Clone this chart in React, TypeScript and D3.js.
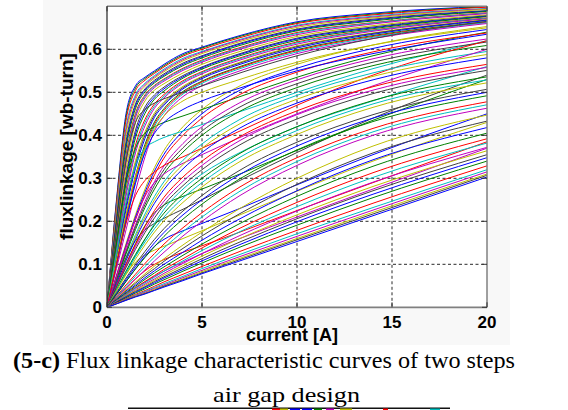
import React from 'react';
import * as d3 from 'd3';

// current samples [A]
const currents = [0, 0.5, 1, 1.5, 2, 2.5, 3, 4, 5, 7, 10, 14, 20];

// near-aligned bundle (flux linkage at each current)
const alignedFamily: number[][] = [
  [0, .25, .45, .515, .535, .55, .565, .59, .605, .632, .664, .684, .70],
  [0, .245, .442, .51, .532, .547, .562, .587, .603, .63, .662, .682, .699],
  [0, .239, .434, .504, .528, .544, .559, .584, .6, .627, .66, .68, .698],
  [0, .228, .418, .494, .521, .539, .554, .579, .595, .623, .656, .677, .695],
  [0, .222, .41, .489, .518, .536, .551, .576, .593, .621, .654, .675, .694],
  [0, .216, .401, .483, .514, .533, .548, .573, .59, .618, .651, .673, .693],
  [0, .205, .385, .473, .508, .528, .543, .568, .585, .614, .647, .67, .69],
  [0, .2, .377, .468, .505, .525, .54, .565, .583, .612, .645, .668, .689],
  [0, .194, .369, .462, .501, .522, .537, .562, .58, .609, .643, .666, .688],
  [0, .183, .353, .451, .494, .516, .531, .556, .575, .604, .639, .662, .685],
  [0, .177, .345, .446, .491, .514, .529, .554, .573, .602, .637, .661, .684],
  [0, .171, .336, .441, .487, .511, .526, .551, .57, .6, .634, .659, .683],
  [0, .16, .32, .43, .48, .505, .52, .545, .565, .595, .63, .655, .68],
  [0, .152, .304, .412, .466, .494, .512, .539, .559, .59, .626, .652, .678],
  [0, .148, .297, .403, .459, .489, .508, .536, .557, .588, .624, .65, .677],
  [0, .144, .289, .394, .451, .484, .503, .533, .554, .585, .621, .648, .676],
  [0, .137, .273, .377, .437, .473, .495, .527, .548, .58, .617, .645, .673],
  [0, .133, .266, .368, .43, .468, .491, .524, .546, .578, .615, .644, .672],
  [0, .129, .258, .359, .422, .463, .487, .521, .543, .575, .612, .642, .671],
  [0, .121, .242, .341, .408, .452, .478, .514, .537, .57, .608, .638, .669],
  [0, .117, .235, .332, .401, .447, .474, .511, .535, .568, .606, .637, .668],
  [0, .113, .227, .323, .393, .442, .47, .508, .532, .565, .603, .635, .667],
  [0, .106, .211, .306, .379, .431, .462, .502, .526, .56, .599, .632, .664],
  [0, .102, .204, .297, .372, .426, .458, .499, .524, .558, .597, .63, .663],
  [0, .098, .196, .288, .364, .421, .453, .496, .521, .555, .594, .628, .662],
  [0, .09, .18, .27, .35, .41, .445, .49, .515, .55, .59, .625, .66],
];

// intermediate positions
const middleFamily: number[][] = [
  [0, .075, .148, .215, .275, .325, .365, .42, .46, .515, .565, .61, .653],
  [0, .073, .144, .21, .268, .317, .356, .41, .45, .505, .556, .602, .646],
  [0, .071, .14, .204, .261, .308, .347, .4, .44, .495, .547, .594, .638],
  [0, .067, .132, .192, .246, .292, .329, .381, .42, .476, .529, .578, .624],
  [0, .065, .128, .187, .239, .284, .32, .371, .41, .466, .52, .57, .617],
  [0, .063, .124, .181, .232, .275, .311, .361, .4, .456, .511, .562, .609],
  [0, .059, .116, .169, .217, .258, .292, .342, .38, .437, .493, .545, .595],
  [0, .057, .112, .164, .21, .25, .283, .332, .37, .427, .484, .537, .588],
  [0, .055, .108, .158, .203, .242, .274, .322, .36, .417, .475, .529, .58],
  [0, .051, .1, .146, .188, .225, .256, .303, .34, .397, .457, .513, .565],
  [0, .049, .096, .141, .181, .217, .247, .293, .33, .388, .448, .505, .558],
  [0, .047, .092, .135, .174, .208, .238, .283, .32, .378, .438, .497, .551],
  [0, .042, .084, .123, .159, .191, .219, .264, .3, .358, .42, .481, .536],
  [0, .04, .08, .118, .152, .183, .21, .254, .29, .349, .411, .473, .529],
  [0, .038, .076, .112, .145, .175, .201, .244, .28, .339, .402, .465, .522],
  [0, .034, .068, .1, .13, .158, .183, .224, .26, .319, .384, .448, .507],
  [0, .032, .064, .095, .123, .15, .174, .215, .25, .309, .375, .44, .5],
  [0, .03, .06, .089, .116, .141, .165, .205, .24, .299, .366, .432, .492],
  [0, .026, .052, .077, .102, .125, .147, .185, .22, .28, .348, .416, .478],
  [0, .024, .048, .072, .095, .117, .138, .176, .21, .27, .339, .408, .471],
  [0, .022, .044, .066, .087, .108, .128, .166, .2, .26, .33, .4, .463],
];

// two-step curves that cross the others
const crossingCurves: number[][] = [
  [0, .175, .34, .43, .46, .475, .485, .5, .515, .545, .585, .625, .665],
  [0, .15, .29, .37, .405, .42, .43, .445, .46, .49, .535, .585, .64],
  [0, .125, .245, .33, .37, .385, .395, .41, .425, .455, .5, .555, .62],
  [0, .11, .215, .305, .37, .415, .445, .48, .5, .53, .57, .61, .65],
  [0, .1, .2, .29, .36, .405, .43, .46, .48, .51, .55, .59, .635],
  [0, .1, .195, .26, .295, .315, .33, .35, .37, .41, .47, .54, .62],
  [0, .07, .14, .205, .258, .29, .31, .335, .355, .395, .45, .515, .6],
  [0, .06, .115, .155, .18, .195, .207, .228, .25, .295, .36, .44, .54],
  [0, .05, .1, .148, .19, .22, .238, .258, .275, .31, .365, .435, .53],
  [0, .04, .08, .12, .158, .195, .228, .275, .31, .36, .42, .48, .56],
  [0, .04, .077, .105, .122, .133, .142, .16, .178, .215, .27, .34, .43],
  [0, .03, .06, .09, .118, .142, .158, .178, .195, .23, .285, .355, .45],
  [0, .022, .044, .066, .085, .1, .111, .128, .143, .175, .225, .29, .385],
  [0, .015, .03, .045, .059, .072, .084, .105, .125, .16, .21, .275, .37],
];

// near-unaligned positions
const unalignedFamily: number[][] = [
  [0, .02, .04, .059, .078, .096, .113, .145, .175, .23, .3, .375, .447],
  [0, .019, .038, .056, .074, .09, .107, .137, .166, .218, .286, .359, .433],
  [0, .018, .035, .052, .069, .085, .1, .128, .156, .206, .271, .343, .418],
  [0, .017, .033, .049, .065, .08, .094, .121, .147, .195, .258, .328, .405],
  [0, .015, .031, .046, .06, .074, .088, .113, .138, .184, .244, .313, .392],
  [0, .015, .03, .044, .057, .07, .084, .108, .132, .176, .234, .302, .382],
  [0, .014, .028, .041, .054, .066, .079, .102, .125, .167, .224, .291, .372],
  [0, .013, .027, .039, .051, .063, .075, .097, .119, .16, .215, .281, .364],
  [0, .012, .025, .037, .048, .06, .071, .092, .113, .152, .206, .271, .355],
  [0, .012, .024, .035, .046, .057, .068, .088, .108, .146, .199, .263, .348],
  [0, .011, .022, .033, .043, .054, .064, .084, .103, .14, .191, .255, .34],
  [0, .01, .02, .03, .039, .049, .059, .077, .095, .13, .179, .242, .329],
  [0, .009, .019, .028, .037, .046, .055, .072, .09, .123, .171, .232, .32],
  [0, .009, .018, .027, .035, .044, .052, .069, .086, .118, .165, .226, .315],
  [0, .009, .017, .026, .033, .042, .05, .066, .083, .114, .16, .221, .31],
  [0, .008, .017, .025, .032, .04, .049, .064, .08, .111, .157, .217, .307],
  [0, .008, .016, .024, .031, .039, .047, .062, .078, .108, .153, .213, .303],
];

const xTicks = [0, 5, 10, 15, 20];
const yTicks = [0, 0.1, 0.2, 0.3, 0.4, 0.5, 0.6];
const xGrid = [5, 10, 15];
const yGrid = [0.1, 0.2, 0.3, 0.4, 0.5, 0.6];
const lineColors = ['#0000ff', '#008000', '#ff0000', '#00bfbf', '#bf00bf', '#bfbf00', '#404040'];

export default function App() {
  const W = 568, H = 410;
  const left = 107, right = 487, top = 6.3, bottom = 307.3;
  const x = d3.scaleLinear().domain([0, 20]).range([left, right]);
  const y = d3.scaleLinear().domain([0, 0.7]).range([bottom, top]);

  // interleave the crossing curves among the middle family (plot order)
  const middleWithCrossing: number[][] = [];
  middleFamily.forEach((c, i) => {
    middleWithCrossing.push(c);
    if (i < crossingCurves.length) middleWithCrossing.push(crossingCurves[i]);
  });
  const curves: number[][] = [...alignedFamily, ...middleWithCrossing, ...unalignedFamily];

  const line = d3
    .line<number>()
    .x((_, i) => x(currents[i]))
    .y((d) => y(d))
    .curve(d3.curveMonotoneX);

  const sans = '"Liberation Sans", Arial, sans-serif';
  const serif = '"Liberation Serif", "Times New Roman", serif';

  const barBits = [
    { x0: 272, x1: 280, c: '#ff0000' },
    { x0: 280, x1: 288, c: '#bfbf00' },
    { x0: 290, x1: 300, c: '#0000ff' },
    { x0: 302, x1: 312, c: '#0000ff' },
    { x0: 314, x1: 322, c: '#008000' },
    { x0: 326, x1: 334, c: '#bf00bf' },
    { x0: 340, x1: 352, c: '#bfbf00' },
    { x0: 383, x1: 388, c: '#ff0000' },
    { x0: 430, x1: 440, c: '#00bfbf' },
  ];

  return (
    <svg
      width={W}
      height={H}
      viewBox={`0 0 ${W} ${H}`}
      style={{ position: 'absolute', left: 0, top: 0, background: '#fff' }}
    >
      <defs>
        <clipPath id="plotClip">
          <rect x={left} y={top} width={right - left} height={bottom - top} />
        </clipPath>
      </defs>
      <rect x={0} y={0} width={W} height={H} fill="#fff" />
      <rect x={43} y={0} width={467} height={345} fill="#f8f8f8" />
      <rect x={left} y={top} width={right - left} height={bottom - top} fill="#fff" />

      {/* grid */}
      {xGrid.map((v) => (
        <line key={'gx' + v} x1={x(v)} x2={x(v)} y1={top} y2={bottom} stroke="#111" strokeWidth={0.9} strokeDasharray="3,2.5" />
      ))}
      {yGrid.map((v) => (
        <line key={'gy' + v} x1={left} x2={right} y1={y(v)} y2={y(v)} stroke="#111" strokeWidth={0.9} strokeDasharray="3,2.5" />
      ))}

      {/* curves */}
      <g clipPath="url(#plotClip)">
        {curves.map((c, k) => (
          <path key={k} d={line(c) || ''} fill="none" stroke={lineColors[k % lineColors.length]} strokeWidth={1} />
        ))}
      </g>

      {/* frame */}
      <line x1={left} x2={right} y1={top} y2={top} stroke="#808080" strokeWidth={1.5} />
      <line x1={right} x2={right} y1={top} y2={bottom} stroke="#808080" strokeWidth={1.5} />
      <line x1={left} x2={right} y1={bottom} y2={bottom} stroke="#808080" strokeWidth={1.8} />
      <line x1={left} x2={left} y1={top} y2={bottom} stroke="#222" strokeWidth={1.2} />

      {/* ticks */}
      {xTicks.map((v) => (
        <g key={'xt' + v}>
          <line x1={x(v)} x2={x(v)} y1={bottom} y2={bottom - 5} stroke="#333" />
          <line x1={x(v)} x2={x(v)} y1={top} y2={top + 5} stroke="#333" />
          <text x={x(v)} y={328} textAnchor="middle" fontFamily={sans} fontWeight="bold" fontSize={17} fill="#000">
            {v}
          </text>
        </g>
      ))}
      {yTicks.map((v) => (
        <g key={'yt' + v}>
          <line x1={left} x2={left + 5} y1={y(v)} y2={y(v)} stroke="#333" />
          <line x1={right} x2={right - 5} y1={y(v)} y2={y(v)} stroke="#333" />
          <text x={102} y={y(v) + 6} textAnchor="end" fontFamily={sans} fontWeight="bold" fontSize={17} fill="#000">
            {v === 0 ? '0' : v.toFixed(1)}
          </text>
        </g>
      ))}

      {/* axis labels */}
      <text x={292} y={341} textAnchor="middle" fontFamily={sans} fontWeight="bold" fontSize={18} fill="#000">
        current [A]
      </text>
      <text
        transform="translate(73,146.5) rotate(-90)"
        textAnchor="middle"
        fontFamily={sans}
        fontWeight="bold"
        fontSize={19}
        fill="#000"
      >
        fluxlinkage [wb-turn]
      </text>

      {/* caption */}
      <text x={13} y={368} fontFamily={serif} fontSize={23} fill="#000" textLength={502} lengthAdjust="spacingAndGlyphs">
        <tspan fontWeight="bold">(5-c)</tspan>
        {' Flux linkage characteristic curves of two steps'}
      </text>
      <text x={213} y={402} fontFamily={serif} fontSize={22} fill="#000" textLength={147} lengthAdjust="spacingAndGlyphs">
        air gap design
      </text>

      {/* cut-off edge of the next figure */}
      <rect x={128} y={407.5} width={322} height={1.5} fill="#111" />
      {barBits.map((b, i) => (
        <rect key={'bb' + i} x={b.x0} y={408.5} width={b.x1 - b.x0} height={1.5} fill={b.c} />
      ))}
    </svg>
  );
}
